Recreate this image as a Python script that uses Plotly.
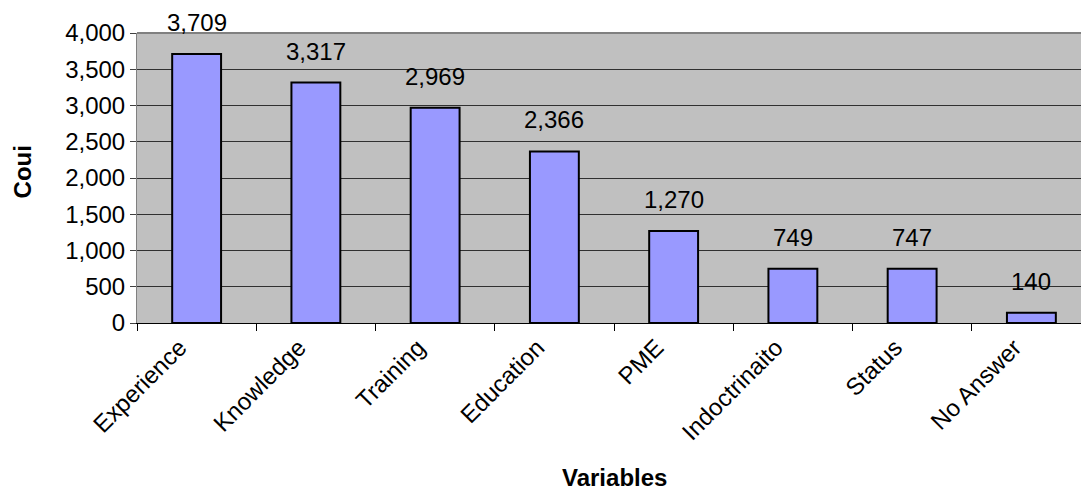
import plotly.graph_objects as go

# Survey responses per variable
variables = ["Experience", "Knowledge", "Training", "Education", "PME",
             "Indoctrinaito", "Status", "No Answer"]
counts = [3709, 3317, 2969, 2366, 1270, 749, 747, 140]
y_ticks = [0, 500, 1000, 1500, 2000, 2500, 3000, 3500, 4000]

FONT = "Liberation Sans, Arial, sans-serif"
SIZE = 24

fig = go.Figure()
fig.add_trace(go.Bar(
    x=variables,
    y=counts,
    marker=dict(color="#9999FF", line=dict(color="black", width=2)),
    hoverinfo="x+y",
))

# value labels above each bar
for name, val in zip(variables, counts):
    fig.add_annotation(
        x=name, y=val, text=f"{val:,}", showarrow=False,
        yanchor="bottom", yshift=16,
        font=dict(family=FONT, size=SIZE, color="black"),
    )

# axis titles
fig.add_annotation(
    xref="paper", yref="paper", x=0.506, y=-0.532,
    text="<b>Variables</b>", showarrow=False,
    xanchor="center", yanchor="middle",
    font=dict(family=FONT, size=SIZE, color="black"),
)
fig.add_annotation(
    xref="paper", yref="paper", x=-0.121, y=0.522,
    text="<b>Coui</b>", showarrow=False, textangle=-90,
    xanchor="center", yanchor="middle",
    font=dict(family=FONT, size=SIZE, color="black"),
)

fig.update_layout(
    width=1081, height=492,
    margin=dict(l=137, r=0, t=33, b=169),
    paper_bgcolor="white",
    plot_bgcolor="#C0C0C0",
    bargap=0.59,
    showlegend=False,
    font=dict(family=FONT, size=SIZE, color="black"),
    xaxis=dict(
        type="category",
        range=[-0.5, 7.416],
        tickson="boundaries",
        ticks="outside", ticklen=7, tickcolor="black", tickwidth=1,
        tickangle=-45,
        ticklabelshift=-17,
        showline=True, linecolor="black", linewidth=1,
        showgrid=False,
        tickfont=dict(family=FONT, size=SIZE, color="black"),
    ),
    yaxis=dict(
        range=[0, 4000],
        tickvals=y_ticks,
        tickformat=",",
        ticks="outside", ticklen=6, tickcolor="#404040",
        showline=True, linecolor="#808080", linewidth=1,
        showgrid=True, gridcolor="#303030", gridwidth=1,
        zeroline=False,
        tickfont=dict(family=FONT, size=SIZE, color="black"),
    ),
    shapes=[dict(type="line", xref="paper", yref="paper",
                 x0=0, x1=1, y0=1, y1=1,
                 line=dict(color="#808080", width=2))],
)

fig.write_html("out.html")
